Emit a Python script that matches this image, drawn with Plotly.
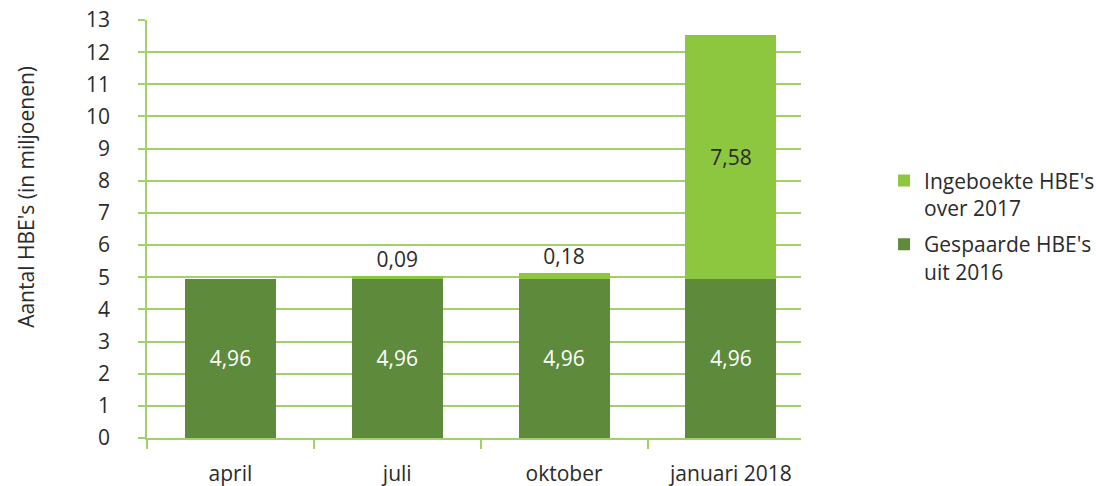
import plotly.graph_objects as go

categories = ["april", "juli", "oktober", "januari 2018"]
gespaard = [4.96, 4.96, 4.96, 4.96]
ingeboekt = [None, 0.09, 0.18, 7.58]
gespaard_labels = ["4,96", "4,96", "4,96", "4,96"]
ingeboekt_labels = ["", "0,09", "0,18", "7,58"]
ingeboekt_pos = ["none", "outside", "outside", "inside"]
y_ticks = list(range(0, 14))

FONT = "Open Sans"
FS = 21
TXT = "#2b2b2b"
DARK = "#5e8a3c"
LIGHT = "#8dc63f"
GRID = "#a2d266"

fig = go.Figure()
fig.add_trace(go.Bar(
    x=categories, y=gespaard, name="Gespaarde HBE's<br>uit 2016",
    legendgroup="g", legendrank=2,
    marker=dict(color=DARK, line=dict(width=0)),
    text=gespaard_labels, textposition="inside", insidetextanchor="middle",
    textfont=dict(color="white", size=FS, family=FONT),
    hoverinfo="skip",
))
fig.add_trace(go.Bar(
    x=categories, y=ingeboekt, name="Ingeboekte HBE's<br>over 2017",
    legendgroup="i", legendrank=1,
    marker=dict(color=LIGHT, line=dict(width=0)),
    text=ingeboekt_labels, textposition=ingeboekt_pos, insidetextanchor="middle",
    textfont=dict(color=TXT, size=FS, family=FONT),
    outsidetextfont=dict(color=TXT, size=FS, family=FONT),
    insidetextfont=dict(color=TXT, size=FS, family=FONT),
    cliponaxis=False,
    hoverinfo="skip",
))

fig.update_layout(
    width=1096, height=486,
    margin=dict(l=147, r=295, t=20, b=48, autoexpand=False),
    barmode="stack", bargap=0.454,
    plot_bgcolor="white", paper_bgcolor="white",
    font=dict(family=FONT, size=FS, color=TXT),
    legend=dict(
        x=1.127, xanchor="left", y=0.664, yanchor="top",
        traceorder="grouped", valign="top",
        font=dict(size=FS, color=TXT, family=FONT),
        itemwidth=30, tracegroupgap=6, bgcolor="rgba(0,0,0,0)",
    ),
    showlegend=True,
)
fig.update_xaxes(
    type="category", range=[-0.5, 3.42], automargin=False,
    showline=True, linecolor=GRID, linewidth=1.5,
    ticks="outside", tickson="boundaries", ticklen=9, tickcolor=GRID, tickwidth=1.5,
    showgrid=False, ticklabelstandoff=16,
    tickfont=dict(size=FS, color=TXT, family=FONT),
)
fig.update_yaxes(
    range=[0, 13], tickvals=y_ticks, ticktext=[str(v) for v in y_ticks],
    automargin=False,
    showline=True, linecolor=GRID, linewidth=1.5,
    showgrid=True, gridcolor=GRID, gridwidth=1.5,
    ticks="outside", ticklen=7, tickcolor=GRID, tickwidth=1.5,
    ticklabelstandoff=24, zeroline=False,
    tickfont=dict(size=FS, color=TXT, family=FONT),
)
fig.add_annotation(
    text="Aantal HBE's (in miljoenen)", textangle=-90,
    xref="paper", yref="paper", x=-0.185, y=0.577,
    xanchor="center", yanchor="middle", showarrow=False,
    font=dict(size=FS, color=TXT, family=FONT),
)

fig.write_html(
    "out.html",
    config={"displayModeBar": False},
    post_script="document.body.style.margin='0';document.body.style.overflow='hidden';",
)
